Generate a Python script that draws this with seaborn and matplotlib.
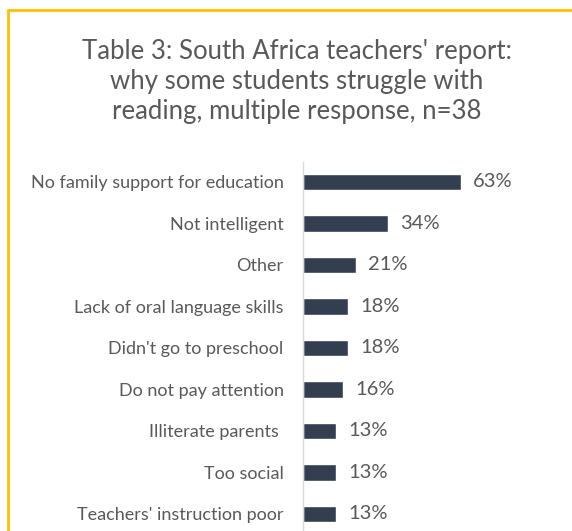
import matplotlib
matplotlib.use("Agg")
import matplotlib.pyplot as plt
from matplotlib.lines import Line2D
import seaborn as sns
import pandas as pd

reasons = [
    "No family support for education",
    "Not intelligent",
    "Other",
    "Lack of oral language skills",
    "Didn't go to preschool",
    "Do not pay attention",
    "Illiterate parents ",
    "Too social",
    "Teachers' instruction poor",
]
shares = [63, 34, 21, 18, 18, 16, 13, 13, 13]

title = ("Table 3: South Africa teachers' report:\n"
         "why some students struggle with\n"
         "reading, multiple response, n=38")

sns.set_theme(style="white")
plt.rcParams['font.family'] = ['Lato', 'DejaVu Sans']

text_col = "#595959"
bar_col = "#333F50"

fig = plt.figure(figsize=(5.72, 5.31), dpi=100)
W, H = 572, 531
ax = fig.add_axes([303 / W, 0, 250 / W, 369 / H])

df = pd.DataFrame({"reason": reasons, "share": shares})
sns.barplot(data=df, x="share", y="reason", color=bar_col, saturation=1,
            width=0.39, ax=ax)

ax.bar_label(ax.containers[0], labels=[f"{v}%" for v in shares],
             padding=9, color=text_col, fontsize=14.5)

ax.set_xlim(0, 100)
ax.set_ylim(8.41, -0.48)
ax.set_xlabel("")
ax.set_ylabel("")
ax.set_xticks([])
for s in ["top", "right", "bottom"]:
    ax.spines[s].set_visible(False)
ax.spines["left"].set_color("#D9D9D9")
ax.spines["left"].set_linewidth(1)
ax.tick_params(axis="y", length=0, pad=14, labelsize=13, labelcolor=text_col)

fig.text(297 / W, 1 - 81 / H, title, ha="center", va="center",
         fontsize=18.5, color=text_col, linespacing=1.25)

# yellow frame (top and left edges)
fig.add_artist(Line2D([8 / W, 1], [1 - 10 / H, 1 - 10 / H],
                      transform=fig.transFigure, color="#FFC000", lw=2))
fig.add_artist(Line2D([8 / W, 8 / W], [0, 1 - 10 / H],
                      transform=fig.transFigure, color="#FFC000", lw=2))

fig.savefig("out.png", dpi=100)
